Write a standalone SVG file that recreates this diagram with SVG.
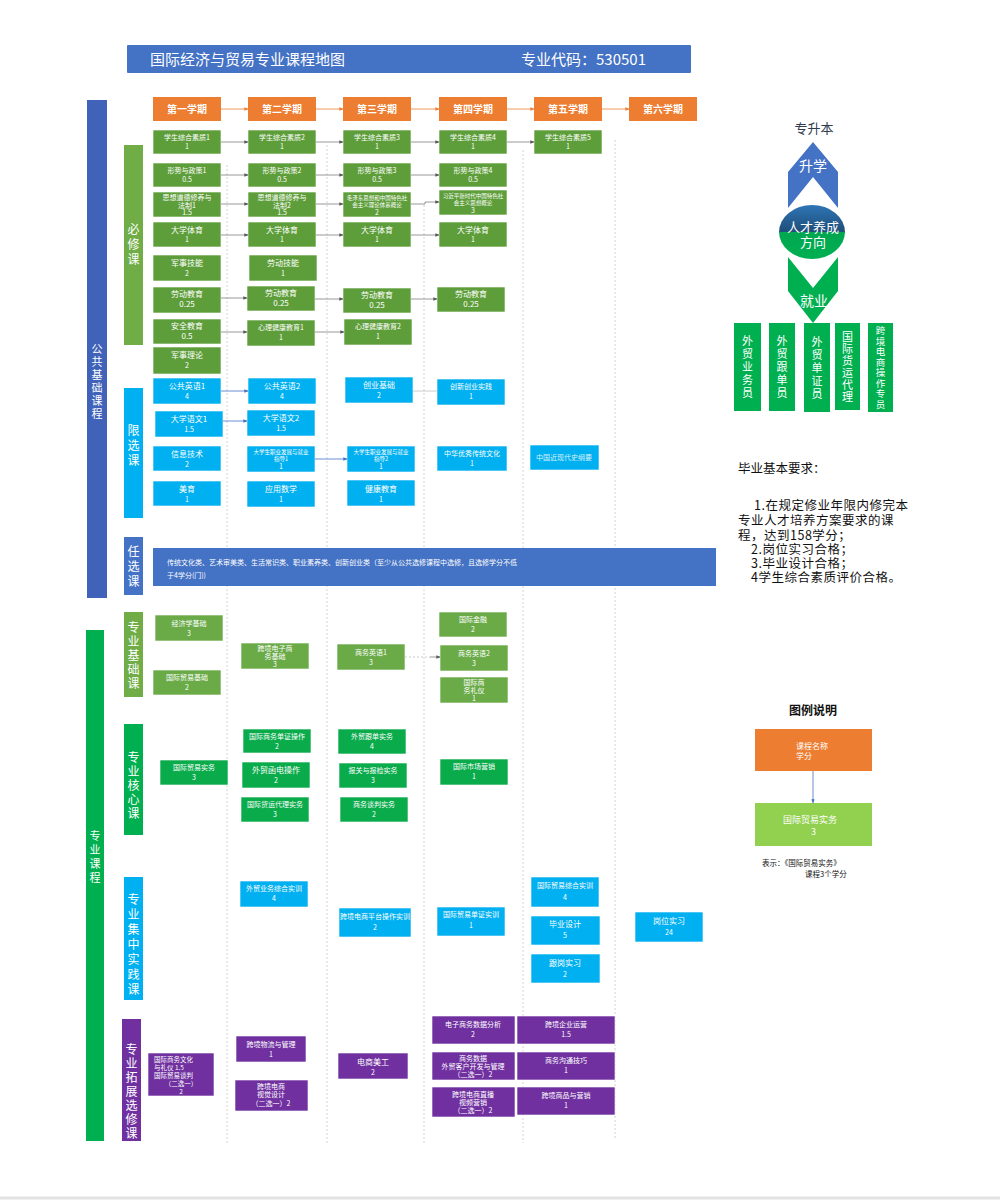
<svg xmlns="http://www.w3.org/2000/svg" width="1000" height="1200" viewBox="0 0 1000 1200">
<defs>
<marker id="ah" viewBox="0 0 6 6" refX="5.5" refY="3" markerWidth="5" markerHeight="5" orient="auto"><path d="M0,0.5 L6,3 L0,5.5 z" fill="#595959"/></marker>
<marker id="aho" viewBox="0 0 6 6" refX="5.5" refY="3" markerWidth="5" markerHeight="5" orient="auto"><path d="M0,0.5 L6,3 L0,5.5 z" fill="#ed7d31"/></marker>
<marker id="ahb" viewBox="0 0 6 6" refX="5.5" refY="3" markerWidth="5" markerHeight="5" orient="auto"><path d="M0,0.5 L6,3 L0,5.5 z" fill="#4472c4"/></marker>
<linearGradient id="eg" x1="0" y1="0" x2="0" y2="1">
<stop offset="0" stop-color="#2e75b6"/><stop offset="0.5" stop-color="#1f4e79"/><stop offset="0.5" stop-color="#00a651"/><stop offset="1" stop-color="#00b050"/>
</linearGradient>
</defs>
<style>
text{font-family:"Noto Sans CJK SC","Noto Sans",sans-serif}
.w{fill:#fff;font-size:7px;text-anchor:middle}
.w8{fill:#fff;font-size:8px;text-anchor:middle}
.s{font-size:5.5px}
.hd{fill:#fff;font-size:10px;font-weight:bold;text-anchor:middle}
.v{fill:#fff;text-anchor:middle;writing-mode:vertical-rl}
.v11{font-size:11px}
.v12{font-size:12px}
.sem{fill:#ed7d31}
.bx{fill:#5e9e3a;stroke:#fff;stroke-width:0.6}
.cy{fill:#00b0f0;stroke:#fff;stroke-width:0.6}
.jc{fill:#6aab48;stroke:#fff;stroke-width:0.6}
.hx{fill:#0aab4b;stroke:#fff;stroke-width:0.6}
.pp{fill:#7030a0;stroke:#fff;stroke-width:0.6}
.cn{stroke:#7f7f7f;stroke-width:0.8;fill:none;marker-end:url(#ah)}
.co{stroke:#ed7d31;stroke-width:0.8;fill:none;marker-end:url(#aho)}
.cb{stroke:#4472c4;stroke-width:0.8;fill:none;marker-end:url(#ahb)}
.cl{stroke:#bfbfbf;stroke-width:0.8;fill:none}
.grid{stroke:#c8c8c8;stroke-width:0.8;stroke-dasharray:2 2;fill:none}
.blk{fill:#111;font-size:12.5px}
</style>
<rect width="1000" height="1200" fill="#fff"/>
<line x1="0" y1="1198" x2="1000" y2="1198" stroke="#e3e3e3" stroke-width="3"/>

<!-- title -->
<g id="title">
<rect x="127" y="45" width="564" height="28" fill="#4472c4" rx="1"/>
<text x="150" y="65" fill="#fff" font-size="15">国际经济与贸易专业课程地图</text>
<text x="521" y="65" fill="#fff" font-size="15">专业代码：530501</text>
</g>

<!-- grid lines -->
<g id="grid">
<line class="grid" x1="227" y1="165" x2="227" y2="1143"/>
<line class="grid" x1="327" y1="145" x2="327" y2="1143"/>
<line class="grid" x1="424" y1="205" x2="424" y2="1143"/>
<line class="grid" x1="523" y1="150" x2="523" y2="1143"/>
<line class="grid" x1="615" y1="140" x2="615" y2="1140"/>
</g>

<!-- category bars -->
<g id="cat-public"><rect x="87" y="100" width="20" height="498" fill="#4062b8"/><text class="v v11" x="97" y="382" letter-spacing="2">公共基础课程</text></g>
<g id="cat-major"><rect x="86" y="630" width="18" height="511" fill="#00b050"/><text class="v v11" x="95" y="858" letter-spacing="3">专业课程</text></g>
<g id="cat-bixiu"><rect x="124" y="145" width="19" height="200" fill="#70ad47"/><text class="v v12" x="133.5" y="246" letter-spacing="3">必修课</text></g>
<g id="cat-xianxuan"><rect x="124" y="388" width="19" height="130" fill="#00b0f0"/><text class="v v12" x="133.5" y="447" letter-spacing="3">限选课</text></g>
<g id="cat-renxuan"><rect x="124" y="537" width="19" height="58" fill="#4472c4"/><text class="v v12" x="133.5" y="568" letter-spacing="3">任选课</text></g>
<g id="cat-jichu"><rect x="124" y="612" width="19" height="85" fill="#70ad47"/><text class="v v12" x="133.5" y="656" letter-spacing="2">专业基础课</text></g>
<g id="cat-hexin"><rect x="124" y="724" width="19" height="111" fill="#00b050"/><text class="v v12" x="133.5" y="786" letter-spacing="2">专业核心课</text></g>
<g id="cat-shijian"><rect x="124" y="877" width="19" height="123" fill="#00b0f0"/><text class="v v12" x="133.5" y="946" letter-spacing="3">专业集中实践课</text></g>
<g id="cat-tuozhan"><rect x="122" y="1019" width="19" height="122" fill="#7030a0"/><text class="v v12" x="131.5" y="1092" letter-spacing="2">专业拓展选修课</text></g>

<!-- semesters -->
<g id="sem1"><rect class="sem" x="153" y="97" width="68" height="24"/><text class="hd" x="187" y="113">第一学期</text></g>
<g id="sem2"><rect class="sem" x="248" y="97" width="68" height="24"/><text class="hd" x="282" y="113">第二学期</text></g>
<g id="sem3"><rect class="sem" x="343" y="97" width="68" height="24"/><text class="hd" x="377" y="113">第三学期</text></g>
<g id="sem4"><rect class="sem" x="439" y="97" width="68" height="24"/><text class="hd" x="473" y="113">第四学期</text></g>
<g id="sem5"><rect class="sem" x="534" y="97" width="68" height="24"/><text class="hd" x="568" y="113">第五学期</text></g>
<g id="sem6"><rect class="sem" x="629" y="97" width="68" height="24"/><text class="hd" x="663" y="113">第六学期</text></g>

<!-- 必修课 -->
<g id="xszh1"><rect class="bx" x="153" y="130" width="68" height="24"/><text class="w" x="187" y="140">学生综合素质1<tspan x="187" dy="9">1</tspan></text></g>
<g id="xszh2"><rect class="bx" x="248" y="130" width="68" height="24"/><text class="w" x="282" y="140">学生综合素质2<tspan x="282" dy="9">1</tspan></text></g>
<g id="xszh3"><rect class="bx" x="343" y="130" width="68" height="24"/><text class="w" x="377" y="140">学生综合素质3<tspan x="377" dy="9">1</tspan></text></g>
<g id="xszh4"><rect class="bx" x="439" y="130" width="68" height="24"/><text class="w" x="473" y="140">学生综合素质4<tspan x="473" dy="9">1</tspan></text></g>
<g id="xszh5"><rect class="bx" x="534" y="130" width="68" height="24"/><text class="w" x="568" y="140">学生综合素质5<tspan x="568" dy="9">1</tspan></text></g>

<g id="xszc1"><rect class="bx" x="153" y="163" width="68" height="24"/><text class="w" x="187" y="173">形势与政策1<tspan x="187" dy="9">0.5</tspan></text></g>
<g id="xszc2"><rect class="bx" x="248" y="163" width="68" height="24"/><text class="w" x="282" y="173">形势与政策2<tspan x="282" dy="9">0.5</tspan></text></g>
<g id="xszc3"><rect class="bx" x="343" y="163" width="68" height="24"/><text class="w" x="377" y="173">形势与政策3<tspan x="377" dy="9">0.5</tspan></text></g>
<g id="xszc4"><rect class="bx" x="439" y="163" width="68" height="24"/><text class="w" x="473" y="173">形势与政策4<tspan x="473" dy="9">0.5</tspan></text></g>

<g id="sxdd1"><rect class="bx" x="153" y="192" width="68" height="25"/><text class="w" x="187" y="200">思想道德修养与<tspan x="187" dy="7.5">法制1</tspan><tspan x="187" dy="7.5">1.5</tspan></text></g>
<g id="sxdd2"><rect class="bx" x="248" y="192" width="68" height="25"/><text class="w" x="282" y="200">思想道德修养与<tspan x="282" dy="7.5">法制2</tspan><tspan x="282" dy="7.5">1.5</tspan></text></g>
<g id="mgai"><rect class="bx" x="343" y="192" width="68" height="25"/><text class="w s" x="377" y="200">毛泽东思想和中国特色社<tspan x="377" dy="7">会主义理论体系概论</tspan><tspan x="377" dy="7.5" font-size="7">2</tspan></text></g>
<g id="xgai"><rect class="bx" x="439" y="190" width="68" height="25"/><text class="w s" x="473" y="198">习近平新时代中国特色社<tspan x="473" dy="7">会主义思想概论</tspan><tspan x="473" dy="7.5" font-size="7">3</tspan></text></g>

<g id="dxty1"><rect class="bx" x="153" y="222" width="68" height="25"/><text class="w8" x="187" y="233">大学体育<tspan x="187" dy="9" font-size="7">1</tspan></text></g>
<g id="dxty2"><rect class="bx" x="248" y="222" width="68" height="25"/><text class="w8" x="282" y="233">大学体育<tspan x="282" dy="9" font-size="7">1</tspan></text></g>
<g id="dxty3"><rect class="bx" x="343" y="222" width="68" height="25"/><text class="w8" x="377" y="233">大学体育<tspan x="377" dy="9" font-size="7">1</tspan></text></g>
<g id="dxty4"><rect class="bx" x="439" y="222" width="68" height="25"/><text class="w8" x="473" y="233">大学体育<tspan x="473" dy="9" font-size="7">1</tspan></text></g>

<g id="jsjn"><rect class="bx" x="153" y="255" width="68" height="26"/><text class="w8" x="187" y="266">军事技能<tspan x="187" dy="10" font-size="7">2</tspan></text></g>
<g id="ldjn"><rect class="bx" x="249" y="255" width="68" height="26"/><text class="w8" x="283" y="266">劳动技能<tspan x="283" dy="10" font-size="7">1</tspan></text></g>

<g id="ldjy1"><rect class="bx" x="153" y="287" width="68" height="26"/><text class="w8" x="187" y="297">劳动教育<tspan x="187" dy="10">0.25</tspan></text></g>
<g id="ldjy2"><rect class="bx" x="247" y="286" width="68" height="25"/><text class="w8" x="281" y="296">劳动教育<tspan x="281" dy="10">0.25</tspan></text></g>
<g id="ldjy3"><rect class="bx" x="343" y="288" width="68" height="25"/><text class="w8" x="377" y="298">劳动教育<tspan x="377" dy="9.5">0.25</tspan></text></g>
<g id="ldjy4"><rect class="bx" x="437" y="287" width="68" height="25"/><text class="w8" x="471" y="297">劳动教育<tspan x="471" dy="9.5">0.25</tspan></text></g>

<g id="aqjy"><rect class="bx" x="153" y="319" width="68" height="25"/><text class="w8" x="187" y="329">安全教育<tspan x="187" dy="10">0.5</tspan></text></g>
<g id="xljk1"><rect class="bx" x="247" y="320" width="68" height="26"/><text class="w" x="281" y="330">心理健康教育1<tspan x="281" dy="10">1</tspan></text></g>
<g id="xljk2"><rect class="bx" x="344" y="319" width="68" height="26"/><text class="w" x="378" y="329">心理健康教育2<tspan x="378" dy="10">1</tspan></text></g>
<g id="jsll"><rect class="bx" x="153" y="347" width="68" height="27"/><text class="w8" x="187" y="358">军事理论<tspan x="187" dy="10" font-size="7">2</tspan></text></g>

<!-- 限选课 -->
<g id="ggyy1"><rect class="cy" x="153" y="378" width="68" height="26"/><text class="w8" x="187" y="389">公共英语1<tspan x="187" dy="10" font-size="7">4</tspan></text></g>
<g id="ggyy2"><rect class="cy" x="248" y="378" width="68" height="26"/><text class="w8" x="282" y="389">公共英语2<tspan x="282" dy="10" font-size="7">4</tspan></text></g>
<g id="cyjc"><rect class="cy" x="345" y="377" width="68" height="26"/><text class="w8" x="379" y="388">创业基础<tspan x="379" dy="10" font-size="7">2</tspan></text></g>
<g id="cxcy"><rect class="cy" x="437" y="379" width="68" height="26"/><text class="w" x="471" y="389">创新创业实践<tspan x="471" dy="10">1</tspan></text></g>
<g id="dxyw1"><rect class="cy" x="155" y="411" width="68" height="26"/><text class="w8" x="189" y="422">大学语文1<tspan x="189" dy="9.5" font-size="7">1.5</tspan></text></g>
<g id="dxyw2"><rect class="cy" x="247" y="410" width="68" height="26"/><text class="w8" x="281" y="421">大学语文2<tspan x="281" dy="9.5" font-size="7">1.5</tspan></text></g>
<g id="xxjs"><rect class="cy" x="153" y="446" width="68" height="25"/><text class="w8" x="187" y="457">信息技术<tspan x="187" dy="9.5" font-size="7">2</tspan></text></g>
<g id="zyfz1"><rect class="cy" x="247" y="446" width="68" height="26"/><text class="w s" x="281" y="454">大学生职业发展与就业<tspan x="281" dy="7">指导1</tspan><tspan x="281" dy="7.5" font-size="7">1</tspan></text></g>
<g id="zyfz2"><rect class="cy" x="347" y="446" width="68" height="26"/><text class="w s" x="381" y="454">大学生职业发展与就业<tspan x="381" dy="7">指导2</tspan><tspan x="381" dy="7.5" font-size="7">1</tspan></text></g>
<g id="zhyx"><rect class="cy" x="437" y="446" width="70" height="25"/><text class="w" x="472" y="456">中华优秀传统文化<tspan x="472" dy="9.5">1</tspan></text></g>
<g id="zgjxd"><rect class="cy" x="530" y="445" width="69" height="25"/><text class="w" x="564" y="460" fill-opacity="0.85">中国近现代史纲要</text></g>
<g id="meiyu"><rect class="cy" x="153" y="481" width="68" height="25"/><text class="w8" x="187" y="492">美育<tspan x="187" dy="9.5" font-size="7">1</tspan></text></g>
<g id="yysx"><rect class="cy" x="247" y="481" width="68" height="26"/><text class="w8" x="281" y="492">应用数学<tspan x="281" dy="10" font-size="7">1</tspan></text></g>
<g id="jkjy"><rect class="cy" x="347" y="480" width="68" height="26"/><text class="w8" x="381" y="492">健康教育<tspan x="381" dy="10" font-size="7">1</tspan></text></g>

<!-- 任选课 -->
<g id="renxuan">
<rect x="153" y="548" width="563" height="38" fill="#4472c4"/>
<text x="167" y="565" fill="#fff" font-size="7">传统文化类、艺术审美类、生活常识类、职业素养类、创新创业类（至少从公共选修课程中选修，且选修学分不低<tspan x="167" dy="13">于4学分(门))</tspan></text>
</g>

<!-- 专业基础课 -->
<g id="jjxjc"><rect class="jc" x="155" y="615" width="68" height="26"/><text class="w" x="189" y="626">经济学基础<tspan x="189" dy="10">3</tspan></text></g>
<g id="gjmyjc"><rect class="jc" x="153" y="670" width="68" height="25"/><text class="w" x="187" y="680">国际贸易基础<tspan x="187" dy="9.5">2</tspan></text></g>
<g id="kjdsjc"><rect class="jc" x="241" y="643" width="68" height="26"/><text class="w" x="275" y="651">跨境电子商<tspan x="275" dy="7.5">务基础</tspan><tspan x="275" dy="8">3</tspan></text></g>
<g id="swyy1"><rect class="jc" x="337" y="644" width="68" height="26"/><text class="w" x="371" y="655">商务英语1<tspan x="371" dy="10">3</tspan></text></g>
<g id="gjjr"><rect class="jc" x="439" y="612" width="68" height="25"/><text class="w" x="473" y="622">国际金融<tspan x="473" dy="10">2</tspan></text></g>
<g id="swyy2"><rect class="jc" x="440" y="645" width="68" height="26"/><text class="w" x="474" y="656">商务英语2<tspan x="474" dy="10">3</tspan></text></g>
<g id="swly"><rect class="jc" x="440" y="677" width="68" height="26"/><text class="w" x="474" y="685">国际商<tspan x="474" dy="7.5">务礼仪</tspan><tspan x="474" dy="8">1</tspan></text></g>

<!-- 专业核心课 -->
<g id="gjmysw"><rect class="hx" x="160" y="760" width="68" height="25"/><text class="w" x="194" y="770">国际贸易实务<tspan x="194" dy="9.5">3</tspan></text></g>
<g id="dzcz"><rect class="hx" x="243" y="729" width="68" height="24"/><text class="w" x="277" y="739">国际商务单证操作<tspan x="277" dy="9.5">2</tspan></text></g>
<g id="whdh"><rect class="hx" x="242" y="762" width="68" height="26"/><text class="w8" x="276" y="773">外贸函电操作<tspan x="276" dy="10" font-size="7">2</tspan></text></g>
<g id="hydl"><rect class="hx" x="241" y="797" width="68" height="25"/><text class="w" x="275" y="807">国际货运代理实务<tspan x="275" dy="9.5">3</tspan></text></g>
<g id="wmgd"><rect class="hx" x="338" y="729" width="68" height="25"/><text class="w" x="372" y="739">外贸跟单实务<tspan x="372" dy="9.5">4</tspan></text></g>
<g id="bgbj"><rect class="hx" x="339" y="763" width="68" height="25"/><text class="w" x="373" y="773">报关与报检实务<tspan x="373" dy="9.5">3</tspan></text></g>
<g id="swtp"><rect class="hx" x="340" y="797" width="68" height="25"/><text class="w" x="374" y="807">商务谈判实务<tspan x="374" dy="9.5">2</tspan></text></g>
<g id="gjscyx"><rect class="hx" x="440" y="759" width="68" height="26"/><text class="w" x="474" y="769">国际市场营销<tspan x="474" dy="10">1</tspan></text></g>

<!-- 专业集中实践课 -->
<g id="wmzhsx"><rect class="cy" x="240" y="881" width="68" height="26"/><text class="w" x="274" y="891">外贸业务综合实训<tspan x="274" dy="10">4</tspan></text></g>
<g id="kjptsx"><rect class="cy" x="339" y="908" width="72" height="29"/><text class="w" x="375" y="919">跨境电商平台操作实训<tspan x="375" dy="11">2</tspan></text></g>
<g id="dzsx"><rect class="cy" x="437" y="907" width="68" height="29"/><text class="w" x="471" y="917">国际贸易单证实训<tspan x="471" dy="11">1</tspan></text></g>
<g id="gmzhsx"><rect class="cy" x="531" y="877" width="68" height="30"/><text class="w" x="565" y="888">国际贸易综合实训<tspan x="565" dy="12">4</tspan></text></g>
<g id="bysj"><rect class="cy" x="531" y="916" width="69" height="29"/><text class="w8" x="565" y="927">毕业设计<tspan x="565" dy="11" font-size="7">5</tspan></text></g>
<g id="ggsx"><rect class="cy" x="531" y="954" width="69" height="29"/><text class="w8" x="565" y="966">跟岗实习<tspan x="565" dy="11" font-size="7">2</tspan></text></g>
<g id="gwsx"><rect class="cy" x="635" y="912" width="68" height="30"/><text class="w8" x="669" y="924">岗位实习<tspan x="669" dy="11" font-size="7">24</tspan></text></g>

<!-- 专业拓展选修课 -->
<g id="swwh"><rect class="pp" x="148" y="1053" width="66" height="43"/>
<text fill="#fff" font-size="6.5" x="154" y="1062">国际商务文化<tspan x="154" dy="8">与礼仪 1.5</tspan><tspan x="154" dy="8">国际贸易谈判</tspan><tspan x="181" dy="8" text-anchor="middle">（二选一）</tspan><tspan x="181" dy="7.5" text-anchor="middle">2</tspan></text></g>
<g id="kjwl"><rect class="pp" x="236" y="1036" width="70" height="26"/><text class="w" x="271" y="1047">跨境物流与管理<tspan x="271" dy="9.5">1</tspan></text></g>
<g id="sjsj"><rect class="pp" x="235" y="1080" width="73" height="31"/><text class="w" x="271" y="1089">跨境电商<tspan x="271" dy="8">视觉设计</tspan><tspan x="271" dy="9">（二选一）2</tspan></text></g>
<g id="dsmg"><rect class="pp" x="338" y="1053" width="70" height="26"/><text class="w8" x="373" y="1065">电商美工<tspan x="373" dy="9.5" font-size="7">2</tspan></text></g>
<g id="sjfx"><rect class="pp" x="432" y="1016" width="83" height="28"/><text class="w" x="473" y="1027">电子商务数据分析<tspan x="473" dy="10">2</tspan></text></g>
<g id="khkf"><rect class="pp" x="432" y="1052" width="83" height="28"/><text class="w" x="473" y="1061">商务数据<tspan x="473" dy="8">外贸客户开发与管理</tspan><tspan x="473" dy="8">（二选一）2</tspan></text></g>
<g id="zbyx"><rect class="pp" x="432" y="1087" width="83" height="30"/><text class="w" x="473" y="1097">跨境电商直播<tspan x="473" dy="8">视频营销</tspan><tspan x="473" dy="8">（二选一）2</tspan></text></g>
<g id="qyyy"><rect class="pp" x="517" y="1016" width="98" height="28"/><text class="w" x="566" y="1027">跨境企业运营<tspan x="566" dy="10">1.5</tspan></text></g>
<g id="gtjq"><rect class="pp" x="517" y="1052" width="98" height="28"/><text class="w" x="566" y="1063">商务沟通技巧<tspan x="566" dy="10">1</tspan></text></g>
<g id="spyx"><rect class="pp" x="517" y="1087" width="98" height="28"/><text class="w" x="566" y="1098">跨境商品与营销<tspan x="566" dy="10">1</tspan></text></g>

<!-- connectors -->
<g id="connectors">
<line class="co" x1="221" y1="109" x2="248" y2="109"/>
<line class="co" x1="316" y1="109" x2="343" y2="109"/>
<line class="co" x1="411" y1="109" x2="439" y2="109"/>
<line class="co" x1="507" y1="109" x2="534" y2="109"/>
<line class="co" x1="602" y1="109" x2="629" y2="109"/>

<line class="cn" x1="221" y1="142" x2="248" y2="142"/>
<line class="cn" x1="316" y1="142" x2="343" y2="142"/>
<line class="cn" x1="411" y1="142" x2="439" y2="142"/>
<line class="cn" x1="507" y1="142" x2="534" y2="142"/>

<line class="cn" x1="221" y1="175" x2="248" y2="175"/>
<line class="cn" x1="316" y1="175" x2="343" y2="175"/>
<line class="cn" x1="411" y1="175" x2="439" y2="175"/>

<line class="cn" x1="221" y1="204" x2="248" y2="204"/>
<line class="cn" x1="316" y1="204" x2="343" y2="204"/>
<path class="cn" d="M411,204 H425 V202 H439"/>

<line class="cn" x1="221" y1="235" x2="248" y2="235"/>
<line class="cn" x1="316" y1="235" x2="343" y2="235"/>
<line class="cn" x1="411" y1="235" x2="439" y2="235"/>

<line class="cn" x1="221" y1="298" x2="247" y2="298"/>
<line class="cn" x1="315" y1="299" x2="343" y2="299"/>
<line class="cn" x1="411" y1="299" x2="437" y2="299"/>

<line class="cn" x1="221" y1="332" x2="247" y2="332"/>
<line class="cn" x1="315" y1="332" x2="344" y2="332"/>

<line class="cb" x1="221" y1="391" x2="248" y2="391"/>
<line class="cl" x1="413" y1="391" x2="437" y2="391"/>
<line class="cb" x1="223" y1="421" x2="247" y2="421"/>
<line class="cb" x1="315" y1="459" x2="347" y2="459"/>

<line class="cl" x1="405" y1="657" x2="430" y2="657" stroke-dasharray="2 2"/>
<line class="cn" x1="430" y1="657" x2="440" y2="657"/>
</g>

<!-- right side: direction -->
<g id="zhuanshengben"><text x="814" y="133" font-size="13" fill="#2f3b4f" text-anchor="middle">专升本</text></g>
<g id="shengxue">
<polygon points="813,142 838,172 838,208 813,177 788,208 788,172" fill="#4472c4"/>
<text x="813" y="171" fill="#fff" font-size="14" text-anchor="middle">升学</text>
</g>
<g id="fangxiang">
<ellipse cx="812" cy="232" rx="33" ry="27" fill="url(#eg)"/>
<text x="813" y="232" fill="#fff" font-size="13" text-anchor="middle">人才养成<tspan x="813" dy="15">方向</tspan></text>
</g>
<g id="jiuye">
<polygon points="788,257 813,288 838,257 838,291 813,323 788,291" fill="#00b050"/>
<text x="814" y="306" fill="#fff" font-size="14" text-anchor="middle">就业</text>
</g>
<g id="job1"><rect x="734" y="323" width="27" height="88" fill="#00b050"/><text class="v v11" x="747.5" y="368" letter-spacing="2">外贸业务员</text></g>
<g id="job2"><rect x="769" y="323" width="26" height="88" fill="#00b050"/><text class="v v11" x="782" y="368" letter-spacing="2">外贸跟单员</text></g>
<g id="job3"><rect x="804" y="323" width="26" height="89" fill="#00b050"/><text class="v v11" x="817" y="369" letter-spacing="2">外贸单证员</text></g>
<g id="job4"><rect x="835" y="323" width="25" height="87" fill="#00b050"/><text class="v v11" x="847.5" y="367" letter-spacing="1">国际货运代理</text></g>
<g id="job5"><rect x="868" y="323" width="25" height="89" fill="#00b050"/><text class="v" font-size="9.5" x="880.5" y="368" letter-spacing="1">跨境电商操作专员</text></g>

<!-- graduation requirements -->
<g id="requirements">
<text class="blk" x="738" y="473">毕业基本要求：</text>
<text class="blk" x="754" y="510" letter-spacing="0.5">1.在规定修业年限内修完本<tspan x="738" dy="15">专业人才培养方案要求的课</tspan><tspan x="738" dy="15">程，达到158学分；</tspan><tspan x="751" dy="14">2.岗位实习合格；</tspan><tspan x="751" dy="14">3.毕业设计合格；</tspan><tspan x="751" dy="14">4学生综合素质评价合格。</tspan></text>
</g>

<!-- legend -->
<g id="legend">
<text x="813" y="715" font-size="12" font-weight="bold" fill="#111" text-anchor="middle">图例说明</text>
<g id="legend-course"><rect x="755" y="729" width="117" height="42" fill="#ed7d31"/>
<text x="796" y="749" fill="#fff" font-size="8">课程名称<tspan x="796" dy="10">学分</tspan></text></g>
<line class="cb" x1="813" y1="771" x2="813" y2="803" stroke="#8ea9db"/>
<g id="legend-example"><rect x="755" y="803" width="117" height="43" fill="#92d050"/>
<text x="783" y="823" fill="#fff" font-size="9">国际贸易实务<tspan x="811" dy="12">3</tspan></text></g>
<text x="762" y="866" fill="#111" font-size="7.5">表示：《国际贸易实务》<tspan x="805" dy="11">课程3个学分</tspan></text>
</g>
</svg>
